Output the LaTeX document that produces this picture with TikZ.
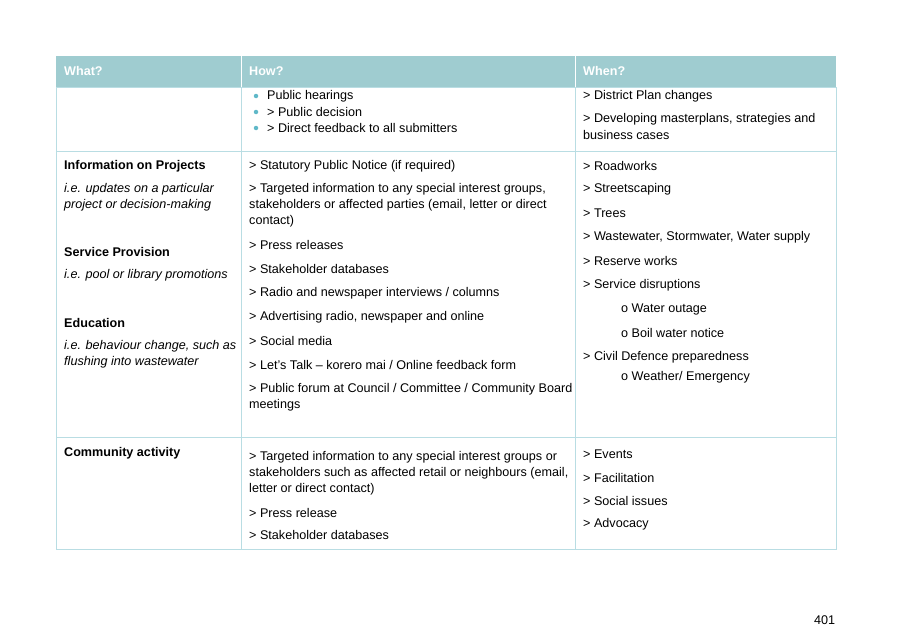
\documentclass[tikz,border=0pt]{standalone}
\usepackage{fontspec}
\setmainfont{Liberation Sans}
\definecolor{hdr}{HTML}{9FCCD0}
\definecolor{grid}{HTML}{B9DDE3}
\definecolor{bul}{HTML}{5FB8C8}
\begin{document}
\begin{tikzpicture}[x=1pt,y=-1pt,
 t/.style={anchor=west,inner sep=0pt,font=\fontsize{12.6}{14}\selectfont},
 h/.style={t,text=white,font=\fontsize{12.6}{14}\selectfont\bfseries},
 b/.style={t,font=\fontsize{12.6}{14}\selectfont\bfseries},
 i/.style={t,font=\fontsize{12.6}{14}\selectfont\itshape},
 dot/.style={circle,fill=bul,inner sep=0pt,minimum size=4.5pt}]
\useasboundingbox (0,0) rectangle (907,626);
\fill[hdr] (56,56) rectangle (836,87);
\draw[grid,line width=0.8pt] (56,87) rectangle (836,549);
\draw[grid,line width=0.8pt] (56,151) -- (836,151) (56,437) -- (836,437)
  (241,87) -- (241,549) (575,87) -- (575,549);
\draw[white,line width=0.8pt] (241,56) -- (241,87) (575,56) -- (575,87);
\node[h] (h1) at (64,71) {What?};
\node[h] (h2) at (249,71) {How?};
\node[h] (h3) at (583,71) {When?};
% row 1
\node[dot] (d1) at (256,96) {}; \node[t] (a1) at (267,96) {Public hearings};
\node[dot] (d2) at (256,112) {}; \node[t] (a2) at (267,112) {> Public decision};
\node[dot] (d3) at (256,128) {}; \node[t] (a3) at (267,128) {> Direct feedback to all submitters};
\node[t] (w1) at (583,96) {> District Plan changes};
\node[t] (w2) at (583,119) {> Developing masterplans, strategies and};
\node[t] (w3) at (583,135) {business cases};
% row 2
\node[b] (p1) at (64,166) {Information on Projects};
\node[i] (p2) at (64,189) {i.e. updates on a particular};
\node[i] (p3) at (64,205) {project or decision-making};
\node[b] (p4) at (64,252) {Service Provision};
\node[i] (p5) at (64,275) {i.e. pool or library promotions};
\node[b] (p6) at (64,323) {Education};
\node[i] (p7) at (64,346) {i.e. behaviour change, such as};
\node[i] (p8) at (64,362) {flushing into wastewater};
\node[t] (q1) at (249,166) {> Statutory Public Notice (if required)};
\node[t] (q2) at (249,189) {> Targeted information to any special interest groups,};
\node[t] (q3) at (249,205) {stakeholders or affected parties (email, letter or direct};
\node[t] (q4) at (249,221) {contact)};
\node[t] (q5) at (249,245) {> Press releases};
\node[t] (q6) at (249,269) {> Stakeholder databases};
\node[t] (q7) at (249,293) {> Radio and newspaper interviews / columns};
\node[t] (q8) at (249,317) {> Advertising radio, newspaper and online};
\node[t] (q9) at (249,341) {> Social media};
\node[t] (q10) at (249,365) {> Let’s Talk – korero mai / Online feedback form};
\node[t] (q11) at (249,389) {> Public forum at Council / Committee / Community Board};
\node[t] (q12) at (249,405) {meetings};
\node[t] (r1) at (583,166) {> Roadworks};
\node[t] (r2) at (583,189) {> Streetscaping};
\node[t] (r3) at (583,213) {> Trees};
\node[t] (r4) at (583,237) {> Wastewater, Stormwater, Water supply};
\node[t] (r5) at (583,261) {> Reserve works};
\node[t] (r6) at (583,285) {> Service disruptions};
\node[t] (r7) at (621,309) {o Water outage};
\node[t] (r8) at (621,333) {o Boil water notice};
\node[t] (r9) at (583,357) {> Civil Defence preparedness};
\node[t] (r10) at (621,377) {o Weather/ Emergency};
% row 3
\node[b] (s1) at (64,453) {Community activity};
\node[t] (u1) at (249,457) {> Targeted information to any special interest groups or};
\node[t] (u2) at (249,473) {stakeholders such as affected retail or neighbours (email,};
\node[t] (u3) at (249,489) {letter or direct contact)};
\node[t] (u4) at (249,513) {> Press release};
\node[t] (u5) at (249,535) {> Stakeholder databases};
\node[t] (v1) at (583,454) {> Events};
\node[t] (v2) at (583,478) {> Facilitation};
\node[t] (v3) at (583,501) {> Social issues};
\node[t] (v4) at (583,524) {> Advocacy};
\node[t] (pg) at (814,620) {401};
\end{tikzpicture}
\end{document}
